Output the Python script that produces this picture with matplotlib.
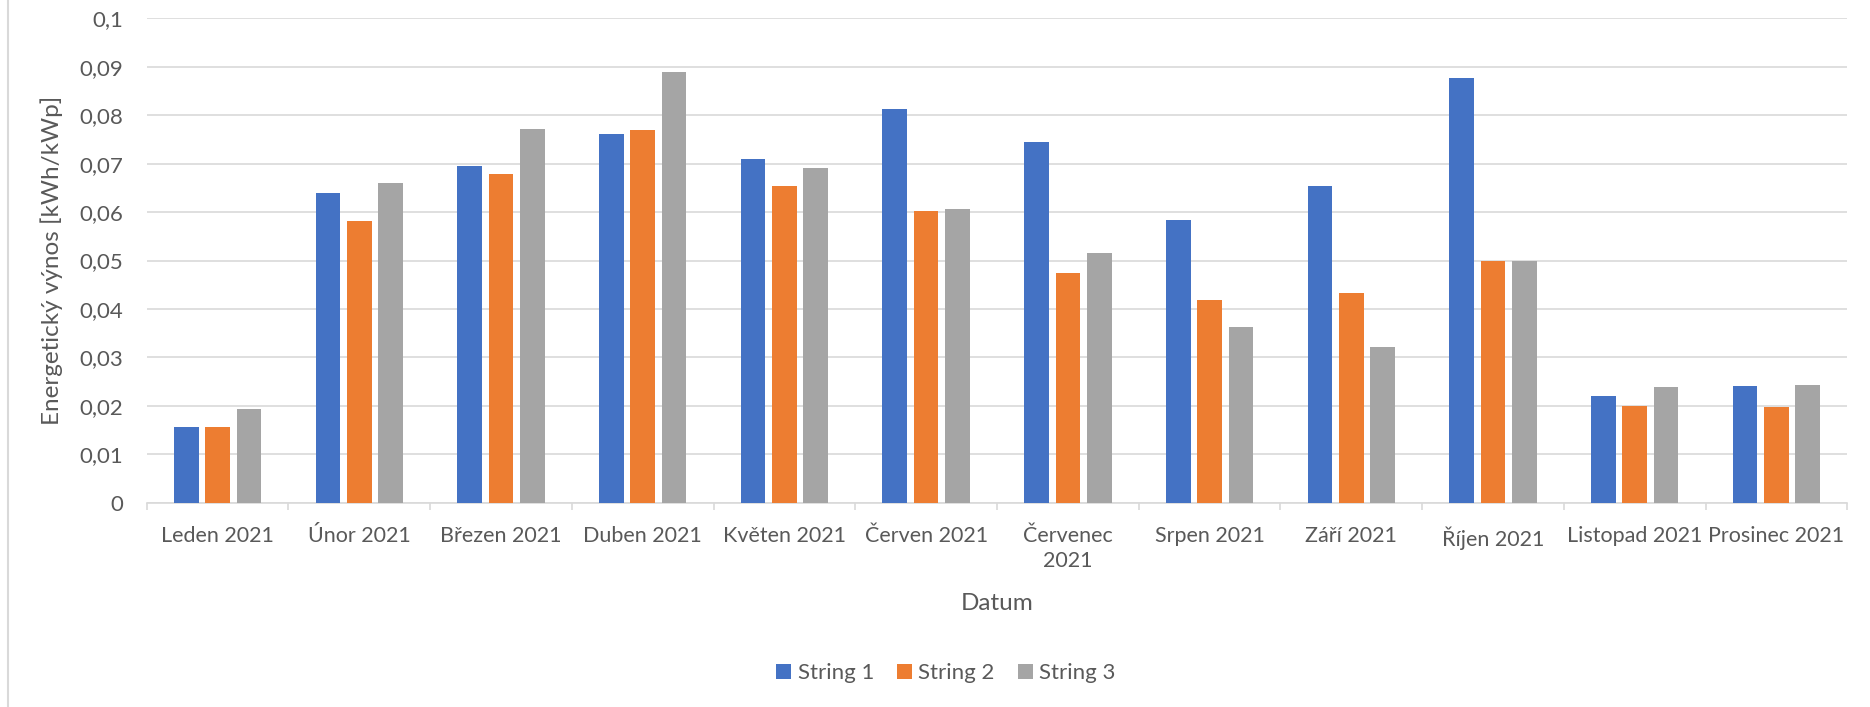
import matplotlib
matplotlib.use("Agg")
import matplotlib.pyplot as plt
import numpy as np
from matplotlib.lines import Line2D

plt.rcParams['font.family'] = ['Lato', 'DejaVu Sans']

# Monthly specific energy yield per string
months = ["Leden 2021", "Únor 2021", "Březen 2021", "Duben 2021", "Květen 2021",
          "Červen 2021", "Červenec\n2021", "Srpen 2021", "Září 2021", "Říjen 2021",
          "Listopad 2021", "Prosinec 2021"]
string1 = [0.0156, 0.0639, 0.0696, 0.0761, 0.0709, 0.0813, 0.0745, 0.0584, 0.0654, 0.0877, 0.0220, 0.0241]
string2 = [0.0156, 0.0581, 0.0678, 0.0769, 0.0654, 0.0603, 0.0474, 0.0419, 0.0432, 0.0500, 0.0199, 0.0197]
string3 = [0.0193, 0.0659, 0.0771, 0.0889, 0.0691, 0.0606, 0.0515, 0.0363, 0.0322, 0.0500, 0.0239, 0.0242]
series_names = ["String 1", "String 2", "String 3"]
series_colors = ["#4472C4", "#ED7D31", "#A5A5A5"]

y_ticks = [0, 0.01, 0.02, 0.03, 0.04, 0.05, 0.06, 0.07, 0.08, 0.09, 0.1]
y_tick_labels = ["0", "0,01", "0,02", "0,03", "0,04", "0,05", "0,06", "0,07", "0,08", "0,09", "0,1"]

text_color = "#595959"
grid_color = "#D9D9D9"

W, H = 1870, 707
fig = plt.figure(figsize=(W / 100, H / 100), dpi=100)
fig.patch.set_facecolor("white")

ax_left, ax_right, ax_top, ax_bottom = 146.7, 1847.3, 18.3, 502.7
ax = fig.add_axes([ax_left / W, 1 - ax_bottom / H, (ax_right - ax_left) / W, (ax_bottom - ax_top) / H])

x = np.arange(len(months))
bar_w = 0.174
step = 0.221
for i, (vals, name, col) in enumerate(zip([string1, string2, string3], series_names, series_colors)):
    ax.bar(x + (i - 1) * step, vals, width=bar_w, color=col, label=name, zorder=3)

ax.set_xlim(-0.5, len(months) - 0.5)
ax.set_ylim(0, 0.1)

ax.set_yticks(y_ticks)
ax.set_yticklabels(y_tick_labels)
ax.yaxis.grid(True, color=grid_color, linewidth=1.2, zorder=0)
ax.tick_params(axis="y", length=0, pad=17, labelsize=16, labelcolor=text_color)

ax.set_xticks(x)
ax.set_xticklabels(months, multialignment="center", linespacing=1.3)
ax.set_xticks(np.arange(-0.5, len(months), 1.0), minor=True)
ax.tick_params(axis="x", which="major", length=0, pad=17, labelsize=15.5, labelcolor=text_color)
ax.tick_params(axis="x", which="minor", length=5, width=1.2, color=grid_color)

for side in ["top", "right", "left"]:
    ax.spines[side].set_visible(False)
ax.spines["bottom"].set_color(grid_color)
ax.spines["bottom"].set_linewidth(1.2)
ax.set_axisbelow(True)

ax.set_ylabel("Energetický výnos [kWh/kWp]", fontsize=17.5, color=text_color, labelpad=12)
fig.text((ax_left + ax_right) / 2 / W, 1 - 603 / H, "Datum", ha="center", va="center",
         fontsize=17.5, color=text_color)

leg = fig.legend(loc="center", bbox_to_anchor=(946 / W, 1 - 673 / H), ncol=3, frameon=False,
                 fontsize=16, handlelength=0.65, handleheight=0.65, handletextpad=0.3,
                 columnspacing=1.05, labelcolor=text_color)

# thin chart-area border on the left edge
fig.add_artist(Line2D([7.5 / W, 7.5 / W], [0, 1], color=grid_color, linewidth=1.5,
                      transform=fig.transFigure))

fig.savefig("out.png", dpi=100, facecolor="white")
